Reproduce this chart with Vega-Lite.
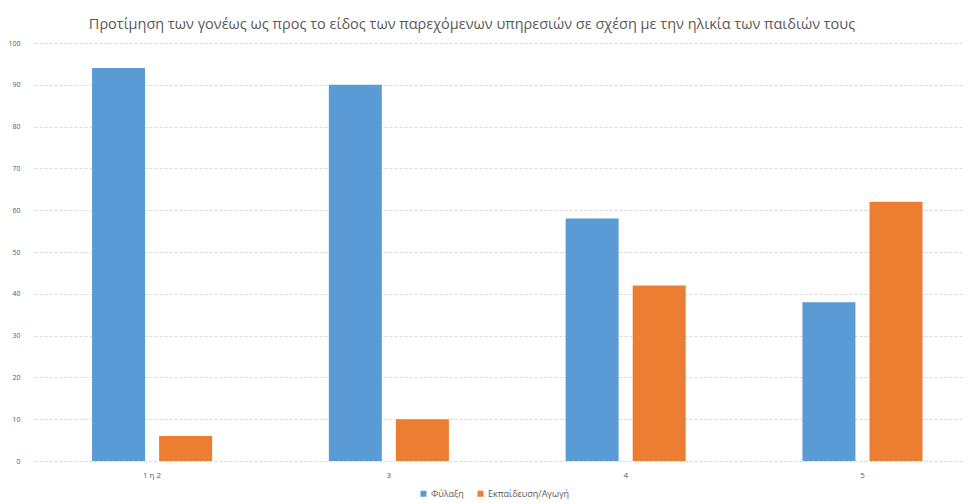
{
  "$schema": "https://vega.github.io/schema/vega-lite/v6.json",
  "autosize": "none",
  "width": 928,
  "height": 418,
  "padding": {"left": 34, "top": 43, "right": 10, "bottom": 43},
  "background": "white",
  "title": {
    "text": "Προτίμηση των γονέως ως προς το είδος των παρεχόμενων υπηρεσιών σε σχέση με την ηλικία των παιδιών τους",
    "font": "Open Sans",
    "fontSize": 14.5,
    "fontWeight": "normal",
    "color": "#595959",
    "anchor": "middle",
    "dx": -26,
    "offset": 7
  },
  "data": {
    "values": [
      {"age": "1 η 2", "type": "Φύλαξη", "value": 94},
      {"age": "1 η 2", "type": "Εκπαίδευση/Αγωγή", "value": 6},
      {"age": "3", "type": "Φύλαξη", "value": 90},
      {"age": "3", "type": "Εκπαίδευση/Αγωγή", "value": 10},
      {"age": "4", "type": "Φύλαξη", "value": 58},
      {"age": "4", "type": "Εκπαίδευση/Αγωγή", "value": 42},
      {"age": "5", "type": "Φύλαξη", "value": 38},
      {"age": "5", "type": "Εκπαίδευση/Αγωγή", "value": 62}
    ]
  },
  "mark": {"type": "bar"},
  "encoding": {
    "x": {
      "field": "age",
      "type": "nominal",
      "sort": null,
      "scale": {"paddingInner": 0.493, "paddingOuter": 0.206, "align": 0.595},
      "axis": {
        "title": null,
        "labelAngle": 0,
        "labelFontSize": 8,
        "labelColor": "#595959",
        "labelFont": "Open Sans",
        "domain": false,
        "ticks": false,
        "labelPadding": 10
      }
    },
    "xOffset": {
      "field": "type",
      "type": "nominal",
      "sort": ["Φύλαξη", "Εκπαίδευση/Αγωγή"],
      "scale": {"paddingInner": 0.21}
    },
    "y": {
      "field": "value",
      "type": "quantitative",
      "scale": {"domain": [0, 100]},
      "axis": {
        "title": null,
        "values": [0, 10, 20, 30, 40, 50, 60, 70, 80, 90, 100],
        "labelFontSize": 7,
        "labelColor": "#595959",
        "labelFont": "Open Sans",
        "domain": false,
        "ticks": false,
        "labelPadding": 14,
        "gridColor": "#d9d9d9",
        "gridDash": [3, 2],
        "gridWidth": 1
      }
    },
    "color": {
      "field": "type",
      "type": "nominal",
      "sort": ["Φύλαξη", "Εκπαίδευση/Αγωγή"],
      "scale": {"domain": ["Φύλαξη", "Εκπαίδευση/Αγωγή"], "range": ["#5B9BD5", "#ED7D31"]},
      "legend": {
        "title": null,
        "orient": "none",
        "direction": "horizontal",
        "legendX": 385,
        "legendY": 446,
        "symbolType": "square",
        "symbolSize": 36,
        "symbolOffset": 0,
        "labelOffset": 3,
        "labelFontSize": 9,
        "labelFont": "Open Sans",
        "labelColor": "#595959",
        "columnPadding": 12
      }
    }
  },
  "config": {"view": {"stroke": null}}
}
